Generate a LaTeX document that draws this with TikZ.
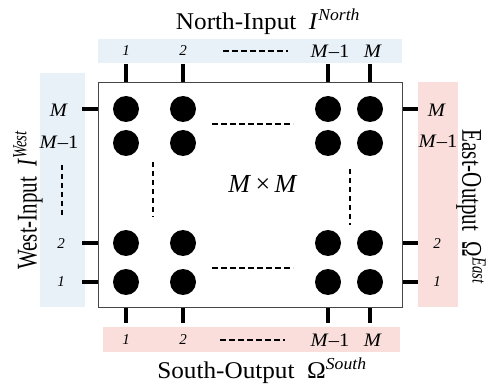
\documentclass[tikz,border=0pt]{standalone}
\usepackage{fontspec}
\setmainfont{Liberation Serif}
\usetikzlibrary{calc}

\definecolor{inband}{RGB}{232,240,248}
\definecolor{outband}{RGB}{249,222,220}
\definecolor{frame}{RGB}{70,70,70}

\newcommand{\Mi}{\textit{M}}

\tikzset{
  band/.style={fill=#1, draw=none},
  pe/.style={circle, fill=black, minimum size=26pt, inner sep=0pt},
  port/.style={line width=3.6pt},
  dots/.style={line width=2.5pt, dash pattern=on 5.5pt off 3.5pt},
  title/.style={font=\fontsize{24}{26}\selectfont, inner sep=0pt, xscale=1.05},
  sidetitle/.style={font=\fontsize{21}{23}\selectfont, inner sep=0pt, xscale=1.36},
  lblM/.style={font=\fontsize{19}{21}\selectfont, inner sep=0pt, xscale=1.08},
  lbln/.style={font=\fontsize{15}{17}\selectfont\itshape, inner sep=0pt},
}

\begin{document}
\begin{tikzpicture}[x=1pt, y=-1pt]
  \useasboundingbox (0,0) rectangle (487,387);

  % coloured bands behind the port labels
  \fill[band=inband]  (98,39)  rectangle (402,63);
  \fill[band=inband]  (40,73)  rectangle (85,307);
  \fill[band=outband] (418,82) rectangle (458,307);
  \fill[band=outband] (103,327) rectangle (400,352);

  % processing array
  \node[draw=frame, line width=1pt, minimum width=304pt, minimum height=224pt,
        inner sep=0pt] (box) at (250,195) {};

  % PE grid: columns 1,2,M-1,M and rows M,M-1,2,1
  \foreach \c/\x in {1/126, 2/183, 3/328, 4/370}{
    \foreach \r/\y in {1/109, 2/143, 3/243, 4/282}{
      \node[pe] (c\r\c) at (\x,\y) {};
    }
  }

  % ellipsis inside the array
  \coordinate (hA) at (212,124);  \coordinate (hB) at (293,124);
  \coordinate (hC) at (212,268);  \coordinate (hD) at (293,268);
  \coordinate (vA) at (153,162);  \coordinate (vB) at (153,217);
  \coordinate (vC) at (350,169);  \coordinate (vD) at (350,225);
  \draw[dots] (hA) -- (hB);
  \draw[dots] (hC) -- (hD);
  \draw[dots] (vA) -- (vB);
  \draw[dots] (vC) -- (vD);

  \node[font=\fontsize{26}{28}\selectfont, inner sep=0pt] (size) at (263,184)
    {\Mi\,×\,\Mi};

  % north ports
  \foreach \c/\x in {1/126, 2/183, 3/328, 4/370}{
    \coordinate (nt\c) at (\x,64);
    \draw[port] (nt\c) -- (nt\c |- box.north);
  }
  % south ports
  \foreach \c/\x in {1/126, 2/183, 3/328, 4/370}{
    \coordinate (st\c) at (\x,323);
    \draw[port] (st\c |- box.south) -- (st\c);
  }
  % west and east ports (rows M, 2, 1)
  \foreach \r/\y in {1/109, 3/243, 4/282}{
    \coordinate (wt\r) at (82,\y);
    \coordinate (et\r) at (418,\y);
    \draw[port] (wt\r) -- (wt\r -| box.west);
    \draw[port] (et\r -| box.east) -- (et\r);
  }

  % north labels
  \node[lbln] (n1) at (126,51) {1};
  \node[lbln] (n2) at (183,51) {2};
  \node[lblM] (n3) at (330,51) {\Mi–1};
  \node[lblM] (n4) at (373,51) {\Mi};
  \coordinate (ndA) at (223,51); \coordinate (ndB) at (288,51);
  \draw[dots] (ndA) -- (ndB);

  % south labels
  \node[lbln] (s1) at (126,340) {1};
  \node[lbln] (s2) at (183,340) {2};
  \node[lblM] (s3) at (330,340) {\Mi–1};
  \node[lblM] (s4) at (373,340) {\Mi};
  \coordinate (sdA) at (220,340); \coordinate (sdB) at (285,340);
  \draw[dots] (sdA) -- (sdB);

  % west labels
  \node[lblM] (w1) at (59,110) {\Mi};
  \node[lblM] (w2) at (59,142) {\Mi–1};
  \node[lbln] (w3) at (61,244) {2};
  \node[lbln] (w4) at (61,282) {1};
  \coordinate (wdA) at (62,165); \coordinate (wdB) at (62,216);
  \draw[dots] (wdA) -- (wdB);

  % east labels
  \node[lblM] (e1) at (437,110) {\Mi};
  \node[lblM] (e2) at (438,141) {\Mi–1};
  \node[lbln] (e3) at (437,244) {2};
  \node[lbln] (e4) at (437,282) {1};

  % titles
  \node[title] (tn) at (268,22)
    {North-Input\enspace\textit{I}\textsuperscript{\textit{North}}};
  \node[title] (ts) at (262,371)
    {South-Output\enspace Ω\textsuperscript{\textit{South}}};
  \node[sidetitle, rotate=90] (tw) at (28,200)
    {West-Input\enspace\textit{I}\textsuperscript{\textit{West}}};
  \node[sidetitle, rotate=-90] (te) at (471,207)
    {East-Output\enspace Ω\textsuperscript{\textit{East}}};
\end{tikzpicture}
\end{document}
